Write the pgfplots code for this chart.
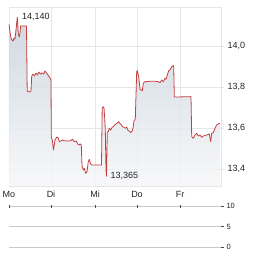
\documentclass[border=0pt]{standalone}
\usepackage{pgfplots}
\pgfplotsset{compat=1.18}
\usepackage{pgfplotstable}
\usepackage{fontspec}
\setmainfont{Liberation Sans}
\definecolor{lineRed}{RGB}{196,64,64}
\definecolor{gridMain}{RGB}{230,230,230}
\definecolor{gridLow}{RGB}{200,200,200}
\definecolor{fillTop}{RGB}{200,210,220}
\definecolor{fillBot}{RGB}{246,247,249}
\definecolor{txt}{RGB}{34,34,34}

\pgfplotstableread{
x v
9 14.107
10 14.068
11 14.039
12 14.029
13 14.024
14 14.039
15 14.034
16 14.078
17.3 14.140
18.3 14.059
19.3 14.044
20 14.063
20.6 14.098
26.5 14.098
27.2 13.780
29 13.776
31 13.780
31.7 13.854
33 13.863
34.5 13.854
36 13.868
37.5 13.859
39 13.873
40.5 13.863
42 13.868
43.5 13.863
45 13.878
46.5 13.868
48 13.859
50 13.844
51 13.834
51.3 13.556
52.3 13.541
53.5 13.493
55 13.541
56.7 13.556
58.3 13.551
59.3 13.533
61 13.537
62.3 13.541
64.3 13.538
66.7 13.537
69 13.537
71 13.538
72.3 13.546
74.3 13.533
76.3 13.537
77.7 13.522
79 13.517
80.3 13.522
81.3 13.517
82 13.415
83.3 13.395
84.3 13.403
85.7 13.379
87 13.387
88.3 13.436
89.3 13.447
90.7 13.424
91.7 13.420
101.5 13.420
102.2 13.698
103 13.704
104 13.698
104.7 13.649
105.3 13.590
106 13.395
106.5 13.365
107.3 13.581
108.3 13.582
109.3 13.599
110.7 13.590
112 13.603
113.3 13.607
114.7 13.615
116 13.620
117.3 13.623
118.5 13.631
120 13.622
121.3 13.615
122.7 13.606
124 13.603
125.3 13.599
126.7 13.605
128 13.588
129.3 13.585
130.7 13.578
132 13.583
133 13.600
134 13.634
135.3 13.644
136 13.761
136.7 13.875
137.3 13.880
138.7 13.850
140 13.789
142.3 13.782
143.3 13.818
144.7 13.826
146 13.826
150 13.828
155 13.828
158.3 13.826
160 13.821
161.7 13.834
163.3 13.826
165 13.842
166 13.838
167.3 13.858
168.7 13.880
170 13.883
171.7 13.899
172.7 13.902
173.7 13.905
174.3 13.753
175 13.751
191 13.753
191.7 13.558
193.3 13.550
195 13.566
196.7 13.574
198.3 13.561
200 13.566
201.7 13.555
203.3 13.561
205 13.563
206.7 13.566
209.3 13.571
210.7 13.533
211.7 13.574
213.3 13.577
215 13.599
216.7 13.615
218.3 13.620
220 13.623
}\pricedata

\begin{document}
\begin{tikzpicture}
\path[use as bounding box] (0pt,0pt) rectangle (264pt,255pt);
\begin{axis}[
  at={(9pt,69pt)}, anchor=south west,
  scale only axis, width=212pt, height=179pt,
  xmin=9, xmax=221, ymin=13.3171, ymax=14.1902,
  axis line style={gridMain, line width=0.8pt},
  grid style={gridMain, line width=0.8pt},
  xmajorgrids, ymajorgrids,
  xtick={9,51,95,137,180},
  xticklabels={Mo,Di,Mi,Do,Fr},
  ytick={13.4,13.6,13.8,14.0},
  ytick pos=right, yticklabel pos=right,
  xtick style={draw=none},
  ytick style={gridMain, line width=0.8pt},
  tick align=outside, major tick length=3pt,
  ticklabel style={font=\fontsize{9}{10}\selectfont, text=txt},
  xticklabel style={anchor=base, yshift=-8pt},
  yticklabel style={/pgf/number format/.cd, use comma, fixed, fixed zerofill, precision=1},
  /pgf/number format/assume math mode=true,
]
\addplot[top color=fillTop, bottom color=fillBot, fill opacity=0.85, draw=none] table[x=x, y=v] {\pricedata} -- (axis cs:220,13.3171) -- (axis cs:9,13.3171) -- cycle;
\addplot[lineRed, line width=0.8pt, line join=round] table[x=x, y=v] {\pricedata};
\node[anchor=west, inner sep=0pt, font=\fontsize{9}{10}\selectfont, text=txt] at (axis cs:22,14.140) {14,140};
\node[anchor=west, inner sep=0pt, font=\fontsize{9}{10}\selectfont, text=txt] at (axis cs:110.5,13.365) {13,365};
\end{axis}
\begin{axis}[
  at={(9pt,8pt)}, anchor=south west,
  scale only axis, width=212pt, height=41pt,
  xmin=9, xmax=221, ymin=0, ymax=10,
  axis line style={draw=none},
  ymajorgrids,
  grid style={gridLow, line width=0.8pt},
  xtick={9,51,95,137,180},
  xticklabels={,,,,},
  xtick pos=right,
  xtick align=center,
  ytick={0,5,10},
  ytick pos=right, yticklabel pos=right,
  ytick align=outside,
  major tick length=3pt,
  tick style={black!70, line width=0.8pt},
  ticklabel style={font=\fontsize{7.5}{8}\selectfont, text=txt},
  yticklabel style={xshift=-1pt},
  /pgf/number format/assume math mode=true,
]
\addplot[draw=none] coordinates {(9,0) (221,10)};
\end{axis}
\end{tikzpicture}
\end{document}
